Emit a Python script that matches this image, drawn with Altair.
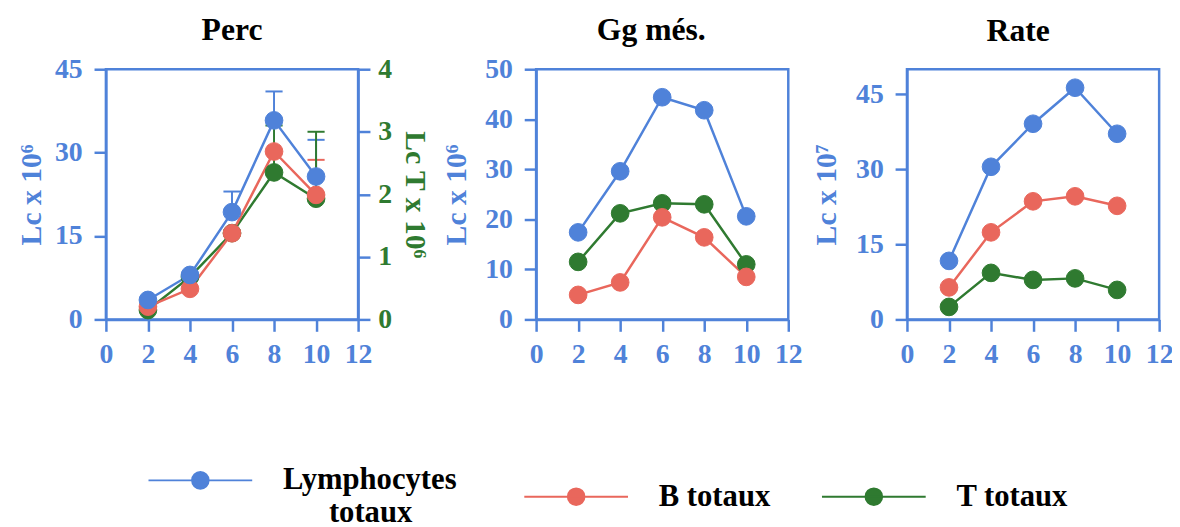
import altair as alt
import pandas as pd

# ---------------- data ----------------
x_vals = [2, 4, 6, 8, 10]
series_names = ["Lymphocytes totaux", "B totaux", "T totaux"]
series_colors = ["#4f82d9", "#e9675c", "#2f7a30"]

perc_lympho = [3.5, 8.0, 19.3, 35.8, 25.7]
perc_b = [2.3, 5.5, 15.5, 30.2, 22.4]
perc_t = [0.15, 0.68, 1.38, 2.35, 1.93]          # right axis (0-4)
perc_lympho_err_x = [6, 8, 10]
perc_lympho_err_hi = [23.0, 41.0, 32.3]
perc_b_err_x = [10]
perc_b_err_hi = [28.7]
perc_t_err_x = [8, 10]
perc_t_err_hi = [3.1, 3.0]

gg_lympho = [17.4, 29.6, 44.4, 41.8, 20.6]
gg_b = [4.9, 7.4, 20.4, 16.4, 8.5]
gg_t = [11.5, 21.2, 23.2, 23.0, 11.0]

rate_lympho = [11.7, 30.5, 39.1, 46.3, 37.1]
rate_b = [6.4, 17.4, 23.6, 24.6, 22.7]
rate_t = [2.5, 9.3, 7.9, 8.2, 5.9]

x_ticks = [0, 2, 4, 6, 8, 10, 12]

BLUE = "#4f82d9"
GREEN = "#2f7a30"
SERIF = "Liberation Serif"

W, H = 255, 253


def series_df(values, name):
    return pd.DataFrame({"x": x_vals, "y": values, "series": name})


def err_df(xs, his, values):
    lo = [values[x_vals.index(x)] for x in xs]
    return pd.DataFrame({"x": xs, "lo": lo, "hi": his})


ZW = "\u200b"
NB = "\u00a0"
legend_def = alt.Legend(
    title=None,
    orient="none",
    legendX=42,
    legendY=362,
    direction="horizontal",
    symbolType="M-1,0H1M0.16,0A0.16,0.16,0,1,1,-0.16,0A0.16,0.16,0,1,1,0.16,0Z",
    symbolSize=11000,
    symbolStrokeWidth=2,
    labelFont=SERIF,
    labelFontWeight="bold",
    labelFontSize=31,
    labelColor="black",
    labelLimit=500,
    labelOffset=30,
    columnPadding=48,
    padding=0,
    labelExpr="datum.label == 'Lymphocytes totaux' ? ['Lymphocytes" + NB * 2 + ZW + "', '"
    + ZW + NB * 6 + "totaux'] : datum.label",
)

color_scale = alt.Scale(domain=series_names, range=series_colors)
stroke_enc = alt.Stroke("series:N", scale=color_scale, legend=legend_def)
fill_enc = alt.Fill("series:N", scale=color_scale, legend=legend_def)

x_enc = alt.X(
    "x:Q",
    scale=alt.Scale(domain=[0, 12], nice=False),
    axis=alt.Axis(values=x_ticks, title=None, labelPadding=10),
)


def title(text, offset, dx=0):
    return alt.TitleParams(
        text, font=SERIF, fontSize=32, fontWeight="bold", color="black",
        offset=offset, dx=dx, anchor="middle",
    )


# ---------------- panel 1 (dual axis) ----------------
L_scale = alt.Scale(domain=[0, 45], nice=False)
R_scale = alt.Scale(domain=[0, 4], nice=False)
left_axis = alt.Axis(values=[0, 15, 30, 45], title="Lc x 10⁶", orient="left",
                     labelPadding=12, titlePadding=8)
right_axis = alt.Axis(values=[0, 1, 2, 3, 4], title="Lc T x 10⁶", orient="right",
                      labelColor=GREEN, titleColor=GREEN, titleAngle=90,
                      labelPadding=8, titlePadding=8)

dfL = series_df(perc_lympho, "Lymphocytes totaux")
dfB = series_df(perc_b, "B totaux")
dfT = series_df(perc_t, "T totaux")
eL = err_df(perc_lympho_err_x, perc_lympho_err_hi, perc_lympho)
eB = err_df(perc_b_err_x, perc_b_err_hi, perc_b)
eT = err_df(perc_t_err_x, perc_t_err_hi, perc_t)


def err_layers(df, scale, color, axis=None):
    rule = alt.Chart(df).mark_rule(strokeWidth=2, color=color).encode(
        x=x_enc, y=alt.Y("lo:Q", scale=scale, axis=axis), y2="hi:Q")
    cap = alt.Chart(df).mark_point(shape="stroke", size=300, strokeWidth=2,
                                   color=color, filled=False, opacity=1).encode(
        x=x_enc, y=alt.Y("hi:Q", scale=scale, axis=None))
    return [rule, cap]


def line_layer(df, scale):
    return alt.Chart(df).mark_line(strokeWidth=2.5).encode(
        x=x_enc, y=alt.Y("y:Q", scale=scale, axis=None), stroke=stroke_enc)


def point_layer(df, scale):
    return alt.Chart(df).mark_point(filled=True, size=320, opacity=1, strokeWidth=1).encode(
        x=x_enc, y=alt.Y("y:Q", scale=scale, axis=None), fill=fill_enc, stroke=stroke_enc)


p1_layers = (
    err_layers(eL, L_scale, series_colors[0], left_axis)
    + err_layers(eB, L_scale, series_colors[1])
    + err_layers(eT, R_scale, series_colors[2], right_axis)
    + [line_layer(dfT, R_scale), line_layer(dfB, L_scale), line_layer(dfL, L_scale)]
    + [point_layer(dfT, R_scale), point_layer(dfB, L_scale), point_layer(dfL, L_scale)]
)
panel1 = alt.layer(*p1_layers).resolve_scale(y="independent").properties(
    width=W, height=H, title=title("Perc", 9))


# ---------------- panels 2 and 3 ----------------
def simple_panel(l_vals, b_vals, t_vals, ticks, ytitle, ttl, offset, dx, tpad):
    df = pd.concat([series_df(t_vals, "T totaux"), series_df(b_vals, "B totaux"),
                    series_df(l_vals, "Lymphocytes totaux")], ignore_index=True)
    y_enc = alt.Y("y:Q", scale=alt.Scale(domain=[0, 50], nice=False),
                  axis=alt.Axis(values=ticks, title=ytitle, labelPadding=12, titlePadding=tpad))
    lines = alt.Chart(df).mark_line(strokeWidth=2.5).encode(
        x=x_enc, y=y_enc, stroke=stroke_enc)
    pts = alt.Chart(df).mark_point(filled=True, size=320, opacity=1, strokeWidth=1).encode(
        x=x_enc, y=y_enc, fill=fill_enc, stroke=stroke_enc)
    return alt.layer(lines, pts).properties(width=W, height=H, title=title(ttl, offset, dx))


panel2 = simple_panel(gg_lympho, gg_b, gg_t, [0, 10, 20, 30, 40, 50], "Lc x 10⁶",
                      "Gg més.", 9, -11, 13)
panel3 = simple_panel(rate_lympho, rate_b, rate_t, [0, 15, 30, 45], "Lc x 10⁷",
                      "Rate", 22, -15, 14)

inner = alt.hconcat(panel2, panel3, spacing=6)
chart = alt.hconcat(panel1, inner, spacing=9).properties(
    padding={"left": 7, "top": 1, "right": -3, "bottom": -4}
).configure_view(stroke=BLUE, strokeWidth=2.5).configure_axis(
    domainColor=BLUE, domainWidth=2.5, tickColor=BLUE, tickWidth=2.5, tickSize=12,
    labelFont=SERIF, labelFontSize=28, labelFontWeight="bold", labelColor=BLUE,
    titleFont=SERIF, titleFontSize=30, titleFontWeight="bold", titleColor=BLUE,
    grid=False, labelFlush=False,
)

chart.save("out.html", embed_options={"renderer": "svg", "actions": False})
